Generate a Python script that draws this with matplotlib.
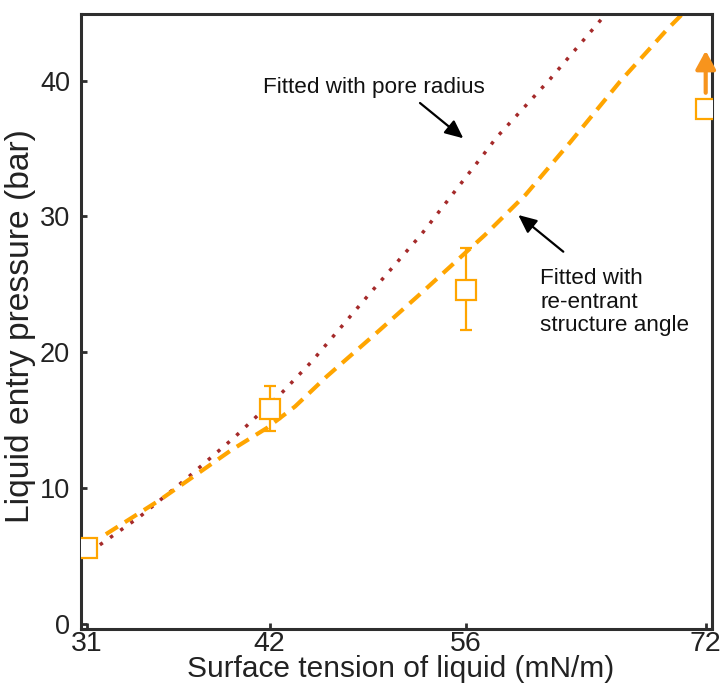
import numpy as np
import matplotlib
matplotlib.use("Agg")
import matplotlib.pyplot as plt
from matplotlib import font_manager

# Measured liquid entry pressure for liquids of different surface tension
tension = [31, 42, 56, 72]
entry_pressure = [5.6, 15.8, 24.6, 37.9]
err_low = [0.0, 1.6, 3.0, 0.0]
err_high = [0.0, 1.7, 3.1, 0.0]

# Model fitted with pore radius
pore_fit_tension = [31.78, 34.19, 37.0, 39.91, 42.95, 45.0, 48.8, 52.86, 57.17, 58.07, 61.62, 65.5]
pore_fit_pressure = [5.82, 7.90, 10.7, 13.77, 17.10, 19.31, 23.9, 28.71, 34.53, 35.83, 40.1, 45.1]

# Model fitted with re-entrant structure angle
angle_fit_tension = [32.14, 35.40, 39.71, 41.82, 43.81, 46.07, 49.5, 52.95, 57.29, 60.0, 63.0, 66.29, 69.40, 70.8]
angle_fit_pressure = [6.60, 9.13, 12.81, 14.41, 16.0, 18.21, 21.3, 24.47, 28.64, 31.6, 35.5, 39.93, 43.73, 45.3]

x_ticks = [31, 42, 56, 72]
y_ticks = [0, 10, 20, 30, 40]

ORANGE = "#FFA500"
ARROW_ORANGE = "#F7941D"
BROWN = "#A52A2A"
SPINE = "#2E2E2E"

# Condensed face for the numbers and the x title when it is available
_names = {f.name for f in font_manager.fontManager.ttflist}
if "Liberation Sans Narrow" in _names:
    narrow, xtick_size, ytick_size, xlabel_size = "Liberation Sans Narrow", 22.3, 21.5, 26
else:
    narrow, xtick_size, ytick_size, xlabel_size = "Liberation Sans", 20.5, 19.5, 21.5
regular = "Liberation Sans"

# Tick spacing of the tension axis is uneven; map it piecewise-linearly
knots = np.array([31.0, 42.0, 56.0, 72.0])
knot_pos = np.array([0.0, 182.7, 378.7, 618.7])
_s0 = (knot_pos[1] - knot_pos[0]) / (knots[1] - knots[0])
_s1 = (knot_pos[-1] - knot_pos[-2]) / (knots[-1] - knots[-2])


def tension_fwd(x):
    x = np.asarray(x, dtype=float)
    out = np.interp(x, knots, knot_pos)
    out = np.where(x < knots[0], knot_pos[0] + (x - knots[0]) * _s0, out)
    out = np.where(x > knots[-1], knot_pos[-1] + (x - knots[-1]) * _s1, out)
    return out


def tension_inv(u):
    u = np.asarray(u, dtype=float)
    out = np.interp(u, knot_pos, knots)
    out = np.where(u < knot_pos[0], knots[0] + (u - knot_pos[0]) / _s0, out)
    out = np.where(u > knot_pos[-1], knots[-1] + (u - knot_pos[-1]) / _s1, out)
    return out


W, H = 723, 694
fig = plt.figure(figsize=(W / 100, H / 100), dpi=100)
ax = fig.add_axes([81.3 / W, 1 - 629.3 / H, 631.0 / W, 615.3 / H])
ax.set_xscale("function", functions=(tension_fwd, tension_inv))
ax.set_xlim(30.66, 72.44)
ax.set_ylim(-0.4, 44.9)

# fitted curves
ax.plot(pore_fit_tension, pore_fit_pressure, color=BROWN, lw=2.5,
        linestyle=(0, (1.0, 2.6)), zorder=2)
ax.plot(angle_fit_tension, angle_fit_pressure, color=ORANGE, lw=3.0,
        linestyle=(0, (3.4, 2.0)), zorder=2)

# measurements
ax.errorbar(tension, entry_pressure, yerr=[err_low, err_high], fmt="none",
            ecolor=ORANGE, elinewidth=1.6, capsize=4, capthick=1.6, zorder=3)
ax.plot(tension, entry_pressure, linestyle="none", marker="s", ms=14,
        mfc="white", mec=ORANGE, mew=1.6, zorder=4)

# lower-bound arrow on the last point (no entry observed)
ax.annotate("", xy=(tension[-1], entry_pressure[-1] + 4.3),
            xytext=(tension[-1], entry_pressure[-1] + 1.2),
            arrowprops=dict(arrowstyle="-|>,head_length=0.55,head_width=0.3",
                            color=ARROW_ORANGE, lw=3.0, mutation_scale=20,
                            shrinkA=0, shrinkB=0), zorder=5)

# axes styling
for sp in ax.spines.values():
    sp.set_linewidth(2.2)
    sp.set_color(SPINE)
ax.set_xticks(x_ticks)
ax.set_xticklabels([str(v) for v in x_ticks])
ax.set_yticks(y_ticks)
ax.xaxis.set_minor_locator(matplotlib.ticker.NullLocator())
ax.tick_params(axis="both", direction="in", length=4.5, width=2.0, color=SPINE,
               top=False, right=False, labelcolor="#222222")
ax.tick_params(axis="x", pad=1)
ax.tick_params(axis="y", pad=8)
for lab in ax.get_xticklabels():
    lab.set_fontfamily(narrow)
    lab.set_fontsize(xtick_size)
for lab in ax.get_yticklabels():
    lab.set_fontfamily(narrow)
    lab.set_fontsize(ytick_size)

ax.set_xlabel("Surface tension of liquid (mN/m)", fontfamily=narrow,
              fontsize=xlabel_size, color="#222222")
ax.xaxis.label.set_va("center")
ax.xaxis.set_label_coords((400.5 - 81.3) / 631.0, (629.3 - 669.0) / 615.3)
ax.set_ylabel("Liquid entry pressure (bar)", fontfamily=regular,
              fontsize=24.2, color="#222222")
ax.yaxis.label.set_va("center")
ax.yaxis.label.set_rotation_mode("default")
ax.yaxis.set_label_coords((21.0 - 81.3) / 631.0, (629.3 - 326.5) / 615.3)

# callouts for the two fits
arrow_kw = dict(arrowstyle="-|>,head_length=0.55,head_width=0.25", color="black",
                lw=1.6, mutation_scale=20, shrinkA=0, shrinkB=0)


def fig_xy(px, py):
    return (px / W, 1 - py / H)


fig.text(*fig_xy(263, 87), "Fitted with pore radius", fontfamily=regular,
         fontsize=16.2, ha="left", va="center", color="#111111")
ax.annotate("", xy=fig_xy(463.3, 138.3), xycoords="figure fraction",
            xytext=fig_xy(420, 103), textcoords="figure fraction",
            arrowprops=arrow_kw)
fig.text(*fig_xy(540, 302), "Fitted with\nre-entrant\nstructure angle",
         fontfamily=regular, fontsize=16.2, ha="left", va="center",
         linespacing=1.15, color="#111111")
ax.annotate("", xy=fig_xy(518.3, 215), xycoords="figure fraction",
            xytext=fig_xy(563.3, 251.7), textcoords="figure fraction",
            arrowprops=arrow_kw)

fig.savefig("out.png", dpi=100, facecolor="white")
